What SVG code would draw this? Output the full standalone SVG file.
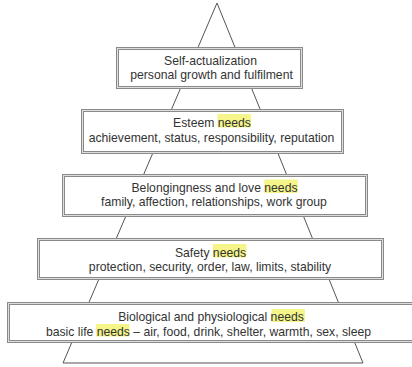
<svg xmlns="http://www.w3.org/2000/svg" width="412" height="367" viewBox="0 0 412 367">
<style>
.bg{fill:#ffffff}
.tri{fill:none;stroke:#555;stroke-width:1}
.box{fill:#ffffff;stroke:#8a8a8a;stroke-width:3}
.inner{fill:none;stroke:#dedede;stroke-width:1}
.hl{fill:#f5f58a}
text{font-family:"Liberation Sans",Arial,sans-serif;font-size:12.2px;fill:#333;text-anchor:middle}
</style>
<rect class="bg" x="0" y="0" width="412" height="367"/>
<g id="connectors">
<polyline class="tri" points="63,363 217,3 363,363"/>
<line class="tri" x1="63" y1="363" x2="363" y2="363"/>
</g>
<g id="self-actualization">
<rect class="box" x="117.5" y="48.5" width="184" height="39"/>
<rect class="inner" x="117.5" y="48.5" width="184" height="39"/>
<text x="210.5" y="65">Self-actualization</text>
<text x="211.5" y="79">personal growth and fulfilment</text>
</g>
<g id="esteem">
<rect class="box" x="82.5" y="110.5" width="260" height="42"/>
<rect class="inner" x="82.5" y="110.5" width="260" height="42"/>
<rect class="hl" x="217.5" y="114" width="33.5" height="13.5"/>
<text x="212" y="127">Esteem needs</text>
<text x="211.5" y="142">achievement, status, responsibility, reputation</text>
</g>
<g id="belonging">
<rect class="box" x="63.5" y="175.5" width="303" height="40"/>
<rect class="inner" x="63.5" y="175.5" width="303" height="40"/>
<rect class="hl" x="264.3" y="179.5" width="33.5" height="13.5"/>
<text x="214.5" y="192">Belongingness and love needs</text>
<text x="214" y="206">family, affection, relationships, work group</text>
</g>
<g id="safety">
<rect class="box" x="38.5" y="239.5" width="344" height="39"/>
<rect class="inner" x="38.5" y="239.5" width="344" height="39"/>
<rect class="hl" x="212.9" y="244" width="33.5" height="13.5"/>
<text x="210.5" y="256.5">Safety needs</text>
<text x="210" y="271">protection, security, order, law, limits, stability</text>
</g>
<g id="biological">
<rect class="box" x="8.5" y="303.5" width="406" height="38"/>
<rect class="inner" x="8.5" y="303.5" width="406" height="38"/>
<rect class="hl" x="271.4" y="309" width="33.5" height="13"/>
<rect class="hl" x="96" y="324" width="33.5" height="12.5"/>
<text x="211" y="321">Biological and physiological needs</text>
<text x="208.5" y="335.5">basic life needs – air, food, drink, shelter, warmth, sex, sleep</text>
</g>
</svg>
